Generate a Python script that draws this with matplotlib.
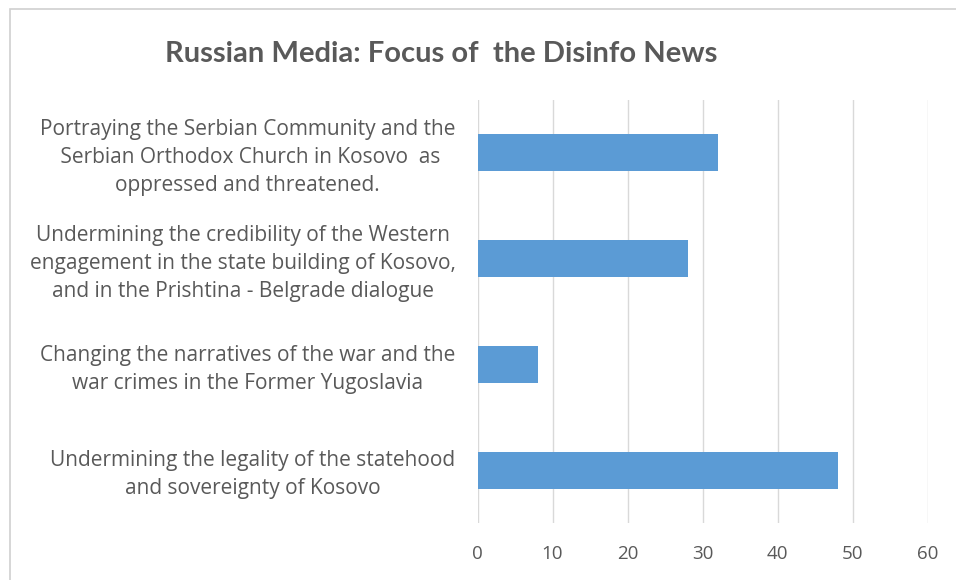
import matplotlib
matplotlib.use("Agg")
import matplotlib.pyplot as plt
from matplotlib.patches import Rectangle

# category labels, top to bottom as they appear on the chart
categories = [
    "Portraying the Serbian Community and the\n Serbian Orthodox Church in Kosovo  as\noppressed and threatened.",
    "Undermining the credibility of the Western\nengagement in the state building of Kosovo,\nand in the Prishtina - Belgrade dialogue",
    "Changing the narratives of the war and the\nwar crimes in the Former Yugoslavia",
    "Undermining the legality of the statehood\nand sovereignty of Kosovo",
]
values = [32, 28, 8, 48]
x_ticks = [0, 10, 20, 30, 40, 50, 60]

BAR_COLOR = "#5B9BD5"
TEXT_COLOR = "#595959"
GRID_COLOR = "#D9D9D9"

fig = plt.figure(figsize=(9.56, 5.8), dpi=100)
fig.patch.set_facecolor("white")

# chart-area frame, only top and left edges fall inside the image
fig.patches.append(Rectangle((10 / 956, -0.1), 1.2, 0.1 + (580 - 9.5) / 580,
                             transform=fig.transFigure, fill=False,
                             edgecolor="#D0D0D0", linewidth=1.2))

ax = fig.add_axes([477.5 / 956, 57 / 580, 450.2 / 956, 423 / 580])

ypos = list(range(len(categories)))
ax.barh(ypos, values, height=0.35, color=BAR_COLOR, zorder=3)
ax.set_ylim(len(categories) - 0.5, -0.5)
ax.set_xlim(0, 60)
ax.set_xticks(x_ticks)
ax.set_xticklabels([str(t) for t in x_ticks], fontsize=13.5, color=TEXT_COLOR,
                   family="Open Sans")
ax.tick_params(axis="x", length=0, pad=16)
ax.tick_params(axis="y", length=0)
ax.set_yticks([])

# category labels sit a touch below the bar centre
for y, lab in zip(ypos, categories):
    ax.text(-22 / 7.5, y + 0.045, lab, ha="right", va="center",
            multialignment="center", fontsize=15, color=TEXT_COLOR,
            family="Open Sans", linespacing=1.45)

ax.grid(axis="x", color=GRID_COLOR, linewidth=1, zorder=0)
for s in ax.spines.values():
    s.set_visible(False)

fig.text(441 / 956, 1 - 54 / 580, "Russian Media: Focus of  the Disinfo News",
         ha="center", va="center", fontsize=21, fontweight="bold",
         color=TEXT_COLOR, family="Lato")

fig.savefig("out.png", dpi=100)
